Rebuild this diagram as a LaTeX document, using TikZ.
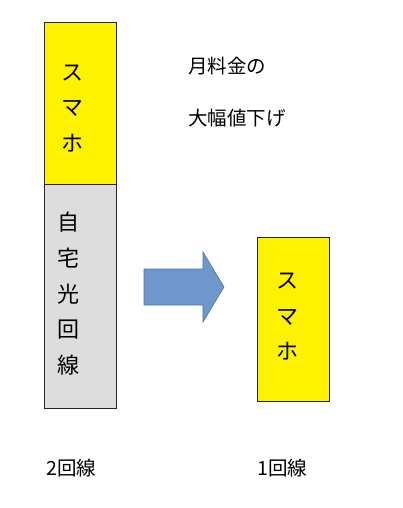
\documentclass[tikz,border=0pt]{standalone}
\usepackage{fontspec}
\newfontfamily\jp{Noto Sans CJK JP}
\definecolor{arrowfill}{HTML}{6E98CC}
\definecolor{arrowline}{HTML}{4A72A6}
\definecolor{boxgray}{HTML}{DDDDDD}
\tikzset{
  bar/.style={draw=black!85, line width=0.8pt},
  vch/.style={font=\jp\fontsize{22}{22}\selectfont, inner sep=0pt},
  lab/.style={font=\jp\fontsize{19.5}{20}\selectfont, inner sep=0pt, anchor=west},
}
\begin{document}
\begin{tikzpicture}[x=1pt,y=-1pt]
\useasboundingbox (0,0) rectangle (402,508);
% left stacked bar
\path[bar, fill=yellow] (44,22) rectangle (116,184);
\path[bar, fill=boxgray] (44,184) rectangle (116,408);
\node[vch] (s1) at (72,73) {ス};
\node[vch] (m1) at (72,108) {マ};
\node[vch] (h1) at (72,143) {ホ};
\node[vch] (c1) at (68,222) {自};
\node[vch] (c2) at (68,258) {宅};
\node[vch] (c3) at (68,294) {光};
\node[vch] (c4) at (68,330) {回};
\node[vch] (c5) at (68,365) {線};
% arrow
\path[draw=arrowline, fill=arrowfill, line width=0.6pt]
  (144,269) -- (203,269) -- (203,252) -- (224,287) -- (203,322) -- (203,305) -- (144,305) -- cycle;
% right bar
\path[bar, fill=yellow] (257,237) rectangle (329,401);
\node[vch] (s2) at (287,281) {ス};
\node[vch] (m2) at (287,317) {マ};
\node[vch] (h2) at (287,351) {ホ};
% labels
\node[lab] (t1) at (188,66) {月料金の};
\node[lab] (t2) at (188,118) {大幅値下げ};
\node[lab] (b1) at (46,468) {2回線};
\node[lab] (b2) at (257,468) {1回線};
\end{tikzpicture}
\end{document}
